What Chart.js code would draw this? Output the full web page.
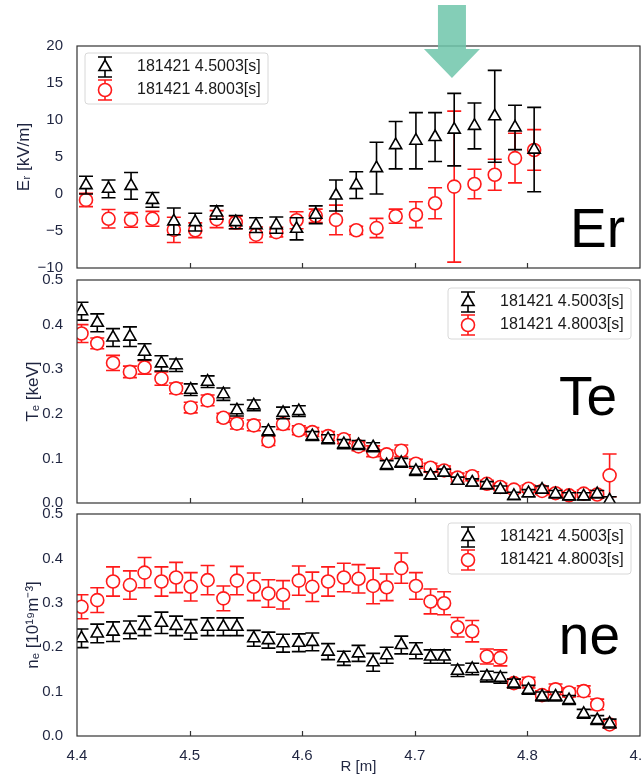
<!DOCTYPE html>
<html>
<head>
<meta charset="utf-8">
<script src="https://cdn.jsdelivr.net/npm/chart.js@4/dist/chart.umd.min.js"></script>
<style>
  html, body { margin: 0; padding: 0; background: #fff; }
  #wrap { position: relative; width: 641px; height: 778px; overflow: hidden; }
  canvas { position: absolute; left: 0; }
</style>
</head>
<body>
<div id="wrap">
  <canvas id="er" width="641" height="280" style="top:0"></canvas>
  <canvas id="te" width="641" height="245" style="top:270px"></canvas>
  <canvas id="ne" width="641" height="274" style="top:504px"></canvas>
</div>
<script>
// series labels
const labelA = '181421 4.5003[s]';
const labelB = '181421 4.8003[s]';

// Er : CXRS channels
const erR = [4.408, 4.428, 4.448, 4.467, 4.486, 4.505, 4.524, 4.541, 4.559, 4.577, 4.595, 4.612,
             4.630, 4.648, 4.666, 4.683, 4.701, 4.718, 4.735, 4.753, 4.771, 4.789, 4.806];
const erA = [1.2, 0.7, 1.1, -0.8, -3.7, -3.8, -2.5, -3.8, -4.2, -4.2, -4.7, -2.8,
             -0.2, 1.2, 3.5, 6.6, 7.2, 7.7, 8.7, 9.2, 10.5, 9.0, 6.0];
const erAErr = [1.2, 1.2, 1.8, 1.0, 1.8, 1.2, 0.9, 0.9, 1.0, 1.1, 1.5, 1.2,
                2.1, 1.8, 3.5, 3.2, 3.8, 3.3, 4.9, 3.1, 6.2, 3.0, 5.7];
const erB = [-0.8, -3.35, -3.5, -3.35, -4.85, -4.9, -3.4, -3.85, -5.5, -5.15, -3.55, -2.95,
             -3.5, -4.9, -4.6, -3.0, -2.8, -1.25, 1.0, 1.35, 2.6, 4.85, 5.95];
const erBErr = [0.9, 1.25, 1.0, 1.0, 1.7, 1.0, 1.15, 0.85, 1.05, 0.65, 1.15, 0.9,
                2.0, 0.55, 1.3, 0.95, 1.75, 2.1, 10.2, 2.0, 2.1, 3.35, 2.75];

// Te, ne : Thomson channels
const tsR = [4.404, 4.418, 4.432, 4.447, 4.460, 4.475, 4.488, 4.501, 4.516, 4.530, 4.542, 4.557,
             4.570, 4.583, 4.597, 4.609, 4.623, 4.637, 4.650, 4.663, 4.675, 4.688, 4.701, 4.714,
             4.726, 4.738, 4.751, 4.764, 4.776, 4.788, 4.801, 4.813, 4.825, 4.837, 4.850, 4.862, 4.873];
const teA = [0.430, 0.404, 0.371, 0.373, 0.339, 0.313, 0.309, 0.254, 0.272, 0.244, 0.208, 0.219,
             0.161, 0.202, 0.206, 0.150, 0.143, 0.132, 0.130, 0.125, 0.085, 0.090, 0.072, 0.062,
             0.068, 0.050, 0.046, 0.040, 0.030, 0.016, 0.022, 0.030, 0.020, 0.015, 0.015, 0.020, 0.006];
const teAErr = [0.02, 0.02, 0.02, 0.022, 0.018, 0.017, 0.014, 0.013, 0.013, 0.014, 0.013, 0.012,
                0.01, 0.013, 0.012, 0.01, 0.01, 0.01, 0.01, 0.01, 0.01, 0.01, 0.01, 0.008,
                0.008, 0.008, 0.008, 0.008, 0.008, 0.008, 0.008, 0.008, 0.008, 0.008, 0.008, 0.008, 0.008];
const teB = [0.380, 0.358, 0.314, 0.294, 0.304, 0.279, 0.257, 0.214, 0.230, 0.191, 0.178, 0.174,
             0.139, 0.177, 0.163, 0.159, 0.150, 0.143, 0.127, 0.116, 0.109, 0.117, 0.088, 0.079,
             0.073, 0.057, 0.060, 0.043, 0.036, 0.030, 0.032, 0.027, 0.022, 0.017, 0.021, 0.019, 0.062];
const teBErr = [0.02, 0.012, 0.017, 0.013, 0.015, 0.015, 0.012, 0.012, 0.012, 0.01, 0.012, 0.012,
                0.01, 0.012, 0.01, 0.01, 0.01, 0.01, 0.01, 0.012, 0.01, 0.013, 0.01, 0.01,
                0.01, 0.01, 0.01, 0.008, 0.008, 0.008, 0.008, 0.008, 0.008, 0.008, 0.008, 0.008, 0.048];
const neA = [0.220, 0.231, 0.235, 0.239, 0.248, 0.255, 0.248, 0.240, 0.246, 0.246, 0.246, 0.220,
             0.216, 0.209, 0.210, 0.212, 0.190, 0.175, 0.186, 0.166, 0.182, 0.205, 0.192, 0.179,
             0.179, 0.147, 0.151, 0.134, 0.131, 0.118, 0.104, 0.089, 0.089, 0.081, 0.050, 0.036, 0.028];
const neAErr = [0.021, 0.021, 0.022, 0.02, 0.022, 0.024, 0.022, 0.022, 0.02, 0.02, 0.02, 0.018,
                0.018, 0.02, 0.02, 0.02, 0.018, 0.016, 0.018, 0.02, 0.018, 0.02, 0.018, 0.015,
                0.015, 0.013, 0.013, 0.012, 0.012, 0.01, 0.01, 0.01, 0.01, 0.01, 0.01, 0.01, 0.01];
const neB = [0.291, 0.306, 0.348, 0.340, 0.368, 0.348, 0.357, 0.336, 0.351, 0.310, 0.350, 0.336,
             0.321, 0.318, 0.350, 0.336, 0.348, 0.357, 0.354, 0.338, 0.335, 0.378, 0.338, 0.303,
             0.299, 0.245, 0.236, 0.179, 0.176, 0.119, 0.120, 0.092, 0.105, 0.098, 0.101, 0.071, 0.026];
const neBErr = [0.027, 0.028, 0.033, 0.032, 0.034, 0.033, 0.034, 0.032, 0.033, 0.028, 0.032, 0.031,
                0.031, 0.032, 0.033, 0.033, 0.033, 0.032, 0.032, 0.04, 0.03, 0.034, 0.03, 0.028,
                0.026, 0.022, 0.024, 0.017, 0.018, 0.01, 0.012, 0.01, 0.012, 0.01, 0.012, 0.012, 0.008];

const xTicks = [4.4, 4.5, 4.6, 4.7, 4.8, 4.9];

const FONT = "'Liberation Sans', Arial, sans-serif";
const INK = '#1f2540';
const RED = '#ff1a1a';

const pts = (xs, ys) => xs.map((x, i) => ({ x: x, y: ys[i] }));

// error bars drawn under each dataset's markers
const errorBars = {
  id: 'errorBars',
  beforeDatasetDraw(chart, args) {
    const ds = chart.data.datasets[args.index];
    if (!ds.errors) return;
    const { ctx, chartArea: a, scales: { x, y } } = chart;
    const cap = 7;
    ctx.save();
    ctx.beginPath();
    ctx.rect(a.left, a.top, a.right - a.left, a.bottom - a.top);
    ctx.clip();
    ctx.strokeStyle = ds.borderColor;
    ctx.lineWidth = 1.6;
    ds.data.forEach((p, i) => {
      const px = x.getPixelForValue(p.x);
      const t = y.getPixelForValue(p.y + ds.errors[i]);
      const b = y.getPixelForValue(p.y - ds.errors[i]);
      ctx.beginPath();
      ctx.moveTo(px, t); ctx.lineTo(px, b);
      ctx.moveTo(px - cap, t); ctx.lineTo(px + cap, t);
      ctx.moveTo(px - cap, b); ctx.lineTo(px + cap, b);
      ctx.stroke();
    });
    ctx.restore();
  }
};

function marker(ctx, style, x, y, color) {
  ctx.save();
  ctx.strokeStyle = color;
  ctx.lineWidth = 1.6;
  ctx.beginPath();
  ctx.moveTo(x, y - 10); ctx.lineTo(x, y + 10);
  ctx.moveTo(x - 7, y - 10); ctx.lineTo(x + 7, y - 10);
  ctx.moveTo(x - 7, y + 10); ctx.lineTo(x + 7, y + 10);
  ctx.stroke();
  ctx.fillStyle = '#fff';
  ctx.beginPath();
  if (style === 'triangle') {
    const r = 7;
    ctx.moveTo(x, y - r);
    ctx.lineTo(x + r * 0.866, y + r * 0.5);
    ctx.lineTo(x - r * 0.866, y + r * 0.5);
    ctx.closePath();
  } else {
    ctx.arc(x, y, 6.5, 0, Math.PI * 2);
  }
  ctx.fill();
  ctx.stroke();
  ctx.restore();
}

// frame, inward x ticks, legend box, big panel label
const decor = {
  id: 'decor',
  afterDraw(chart, args, o) {
    const { ctx, chartArea: a, scales: { x } } = chart;
    ctx.save();
    ctx.strokeStyle = '#333';
    ctx.lineWidth = 1.2;
    ctx.strokeRect(a.left, a.top, a.right - a.left, a.bottom - a.top);
    ctx.beginPath();
    xTicks.slice(1, -1).forEach(v => {
      const px = Math.round(x.getPixelForValue(v)) + 0.5;
      ctx.moveTo(px, a.bottom); ctx.lineTo(px, a.bottom - 5);
    });
    ctx.stroke();

    // legend
    const lx = o.legendLeft ? a.left + 8 : a.right - 192;
    const ly = a.top + o.legendTop;
    ctx.fillStyle = 'rgba(255,255,255,0.85)';
    ctx.strokeStyle = '#d8d8d8';
    ctx.lineWidth = 1;
    ctx.beginPath();
    ctx.roundRect(lx, ly, 183, 51, 3);
    ctx.fill();
    ctx.stroke();
    ctx.font = '16px ' + FONT;
    ctx.textBaseline = 'middle';
    chart.data.datasets.forEach((ds, i) => {
      const ey = ly + 14 + i * 23;
      marker(ctx, ds.pointStyle, lx + 20, ey, ds.borderColor);
      ctx.fillStyle = '#1a1a1a';
      ctx.fillText(ds.label, lx + 52, ey);
    });

    // big label
    ctx.font = '55px ' + FONT;
    ctx.textAlign = 'right';
    ctx.textBaseline = 'alphabetic';
    ctx.fillStyle = '#000';
    ctx.fillText(o.tag, a.right - o.tagRight, a.top + o.tagBase);

    // arrow above Er panel
    if (o.arrowAt) {
      const ax = x.getPixelForValue(o.arrowAt);
      ctx.fillStyle = 'rgba(110,198,170,0.85)';
      ctx.beginPath();
      ctx.moveTo(ax - 14, 5); ctx.lineTo(ax + 14, 5);
      ctx.lineTo(ax + 14, 49); ctx.lineTo(ax + 28, 49);
      ctx.lineTo(ax, 78); ctx.lineTo(ax - 28, 49);
      ctx.lineTo(ax - 14, 49);
      ctx.closePath();
      ctx.fill();
    }
    ctx.restore();
  }
};

function makeChart(id, cfg) {
  const datasets = [
    { label: labelA, data: pts(cfg.xs, cfg.a), errors: cfg.aErr, pointStyle: 'triangle',
      pointRadius: 7, borderColor: '#000', backgroundColor: '#fff', borderWidth: 1.6 },
    { label: labelB, data: pts(cfg.xs, cfg.b), errors: cfg.bErr, pointStyle: 'circle',
      pointRadius: 6.5, borderColor: RED, backgroundColor: '#fff', borderWidth: 1.6 }
  ];
  return new Chart(document.getElementById(id), {
    type: 'scatter',
    data: { datasets: datasets },
    plugins: [errorBars, decor],
    options: {
      responsive: false,
      animation: false,
      devicePixelRatio: 1,
      layout: { autoPadding: false, padding: { top: cfg.padTop, bottom: cfg.padBottom, left: 0, right: 1 } },
      plugins: {
        legend: { display: false },
        tooltip: { enabled: false },
        decor: cfg.decor
      },
      scales: {
        x: {
          type: 'linear', min: 4.4, max: 4.9,
          afterBuildTicks: s => { s.ticks = xTicks.map(v => ({ value: v })); },
          grid: { display: false },
          border: { display: false },
          ticks: {
            display: cfg.showX, autoSkip: false, padding: 3, color: INK,
            font: { family: FONT, size: 15 },
            callback: v => v.toFixed(1)
          },
          title: {
            display: cfg.showX, text: 'R [m]', color: INK,
            font: { family: FONT, size: 15 }, padding: { top: 0, bottom: 2 }
          },
          afterFit: s => { s.height = cfg.showX ? 42 : 0; s.paddingLeft = 0; s.paddingRight = 0; }
        },
        y: {
          min: cfg.yMin, max: cfg.yMax,
          afterBuildTicks: s => { s.ticks = cfg.yTicks.map(v => ({ value: v })); },
          grid: { display: false },
          border: { display: false },
          ticks: {
            padding: 6, color: INK,
            font: { family: FONT, size: 15 },
            callback: cfg.fmt
          },
          title: {
            display: true, text: cfg.yTitle, color: INK,
            font: { family: FONT, size: 17 }, padding: { top: cfg.titlePad, bottom: 0 }
          },
          afterFit: s => { s.width = 77; s.paddingTop = 0; s.paddingBottom = 0; }
        }
      }
    }
  });
}

makeChart('er', {
  xs: erR, a: erA, aErr: erAErr, b: erB, bErr: erBErr,
  padTop: 46, padBottom: 12, showX: false,
  yMin: -10, yMax: 20, yTicks: [-10, -5, 0, 5, 10, 15, 20],
  fmt: v => String(v).replace('-', '\u2212'),
  yTitle: 'E\u1d63 [kV/m]', titlePad: 14,
  decor: { legendLeft: true, legendTop: 7, tag: 'Er', tagRight: 15, tagBase: 201, arrowAt: 4.733 }
});

makeChart('te', {
  xs: tsR, a: teA, aErr: teAErr, b: teB, bErr: teBErr,
  padTop: 10, padBottom: 12, showX: false,
  yMin: 0, yMax: 0.5, yTicks: [0, 0.1, 0.2, 0.3, 0.4, 0.5],
  fmt: v => v.toFixed(1),
  yTitle: 'T\u2091 [keV]', titlePad: 23,
  decor: { legendLeft: false, legendTop: 8, tag: 'Te', tagRight: 23, tagBase: 135 }
});

makeChart('ne', {
  xs: tsR, a: neA, aErr: neAErr, b: neB, bErr: neBErr,
  padTop: 10, padBottom: 0, showX: true,
  yMin: 0, yMax: 0.5, yTicks: [0, 0.1, 0.2, 0.3, 0.4, 0.5],
  fmt: v => v.toFixed(1),
  yTitle: 'n\u2091 [10\u00b9\u2079m\u207b\u00b3]', titlePad: 23,
  decor: { legendLeft: false, legendTop: 9, tag: 'ne', tagRight: 20, tagBase: 140 }
});
</script>
</body>
</html>
